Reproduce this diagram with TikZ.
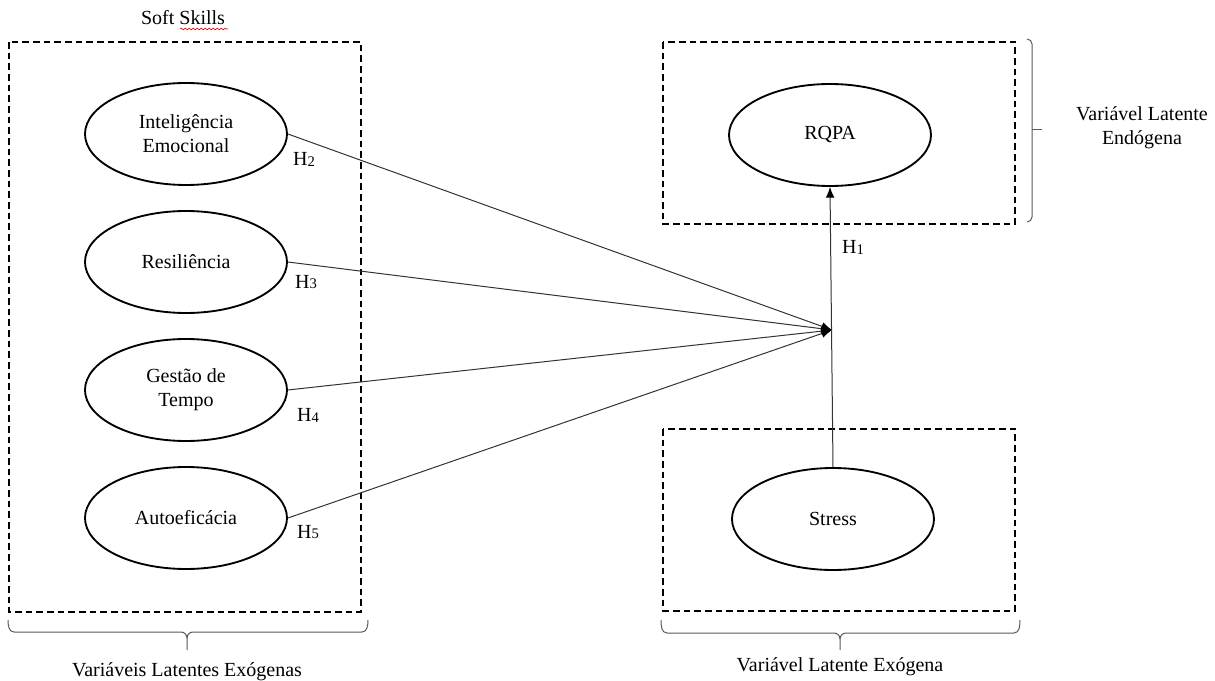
\documentclass[tikz,border=0pt]{standalone}
\usepackage{fontspec}
\setmainfont{Liberation Serif}
\usetikzlibrary{shapes.geometric,arrows.meta,decorations.pathmorphing}
\begin{document}
\begin{tikzpicture}[x=0.75pt,y=-0.75pt,
  font=\fontsize{15}{18}\selectfont,
  lat/.style={ellipse,draw,line width=1.4pt,minimum width=151.5pt,minimum height=76.5pt,inner sep=0pt,align=center},
  dbox/.style={draw,line width=1.4pt,dash pattern=on 5pt off 3pt},
  conn/.style={draw=black!80,line width=0.75pt,-{Latex[length=8pt,width=6.5pt,black]}},
  brace/.style={draw=black!65,line width=0.75pt},
  lbl/.style={inner sep=0pt,align=center}]
\useasboundingbox (0,0) rectangle (1215,681);
% dashed boxes
\draw[dbox] (9,42) rectangle (361,612);
\draw[dbox] (663,42) rectangle (1015,224);
\draw[dbox] (663,429) rectangle (1015,611);
% latent variables
\node[lat] (ie) at (186,134) {Inteligência\\Emocional};
\node[lat] (res) at (186,262) {Resiliência};
\node[lat] (gt) at (186,390) {Gestão de\\Tempo};
\node[lat] (ae) at (186,518) {Autoeficácia};
\node[lat] (rqpa) at (830,135) {RQPA};
\node[lat] (st) at (833,519) {Stress};
\coordinate (m) at (832,330);
% connectors
\draw[conn] (ie.east) -- (m);
\draw[conn] (res.east) -- (m);
\draw[conn] (gt.east) -- (m);
\draw[conn] (ae.east) -- (m);
\draw[conn] (st.north) -- (rqpa.south);
% hypothesis labels
\newcommand{\hyp}[1]{H\raisebox{-0.1ex}{\fontsize{11}{12}\selectfont #1}}
\node[lbl] (h1) at (853,247) {\hyp{1}};
\node[lbl] (h2) at (304,159) {\hyp{2}};
\node[lbl] (h3) at (306,282) {\hyp{3}};
\node[lbl] (h4) at (308,415) {\hyp{4}};
\node[lbl] (h5) at (308,532) {\hyp{5}};
% titles
\node[lbl] (soft) at (183,18) {Soft Skills};
\draw[red,line width=0.5pt,decorate,decoration={snake,amplitude=0.6pt,segment length=3pt}] (180,29) -- (228,29);
% braces
\draw[brace] (8,620) to[out=-90,in=180] (14,632) -- (181,632) to[out=0,in=90] (187,638) -- (187,650);
\draw[brace] (187,638) to[out=90,in=180] (193,632) -- (362,632) to[out=0,in=-90] (368,620);
\draw[brace] (661,620) to[out=-90,in=180] (667,633) -- (834,633) to[out=0,in=90] (840,639) -- (840,650);
\draw[brace] (840,639) to[out=90,in=180] (846,633) -- (1014,633) to[out=0,in=-90] (1020,620);
\draw[brace] (1027,39) to[out=0,in=90] (1032,44) -- (1032,217) to[out=-90,in=0] (1027,222);
\draw[brace] (1032,130) -- (1042,130);
\node[lbl] (lex) at (187,672) {Variáveis Latentes Exógenas};
\node[lbl] (lex2) at (840,667) {Variável Latente Exógena};
\node[lbl] (lend) at (1142,128) {Variável Latente\\Endógena};
\end{tikzpicture}
\end{document}
